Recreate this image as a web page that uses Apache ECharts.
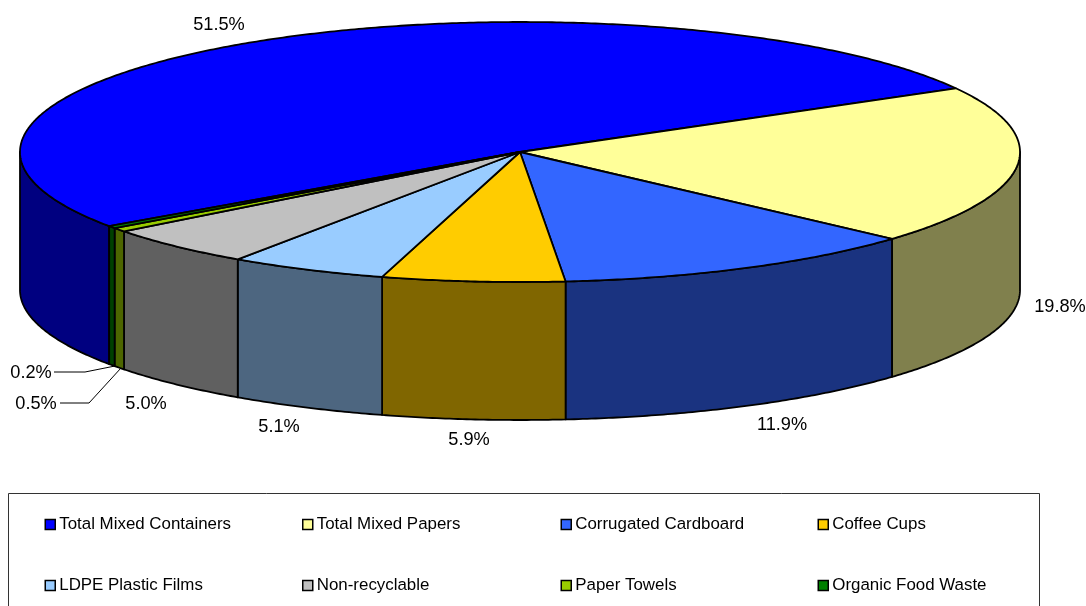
<!DOCTYPE html>
<html>
<head>
<meta charset="utf-8">
<style>html,body{margin:0;padding:0;background:#fff;overflow:hidden}#c{width:1086px;height:606px}</style>
<script src="https://cdn.jsdelivr.net/npm/echarts@6/dist/echarts.min.js"></script>
</head>
<body>
<div id="c"></div>
<script>
const categories = ['Total Mixed Containers','Total Mixed Papers','Corrugated Cardboard','Coffee Cups','LDPE Plastic Films','Non-recyclable','Paper Towels','Organic Food Waste'];
const values = [51.5,19.8,11.9,5.9,5.1,5.0,0.5,0.2];
const topColors = ['#0000FF','#FFFF99','#3366FF','#FFCC00','#99CCFF','#C0C0C0','#99CC00','#008000'];
const sideColors = ['#000080','#80804D','#1A3380','#806600','#4D6680','#606060','#4D6600','#004000'];
const labelAnchors = [[219,25],[1060,307],[782,425],[469,440],[279,427],[146,404],[36,404],[31,373]];
const leaderLines = {6:[[60,403],[89,403],[121,368]],7:[[54,372],[85,372],[115,366]]};
const legendColumns = [[0,4],[1,5],[2,6],[3,7]];
const legendLeft = [44.5,302,560.5,817.5];

const CX=520, CY=152, RX=500, RY=130, DEPTH=138, START=145.25;
const FONT='"Liberation Sans", Arial, sans-serif';
const pt=(deg,dy)=>{const r=deg*Math.PI/180;return [CX+RX*Math.cos(r),CY+RY*Math.sin(r)+(dy||0)];};
function arc(a,b,dy){const n=Math.max(2,Math.ceil(Math.abs(b-a)/0.5));const out=[];for(let i=0;i<=n;i++)out.push(pt(a+(b-a)*i/n,dy));return out;}

// Values are percentages; the rounded figures sum to 99.9, so the last slice closes the ring.
let cum=0;
const spans=values.map((v,i)=>{const a=START+cum*3.6;cum+=v;return [a,i===values.length-1?START+360:START+cum*3.6];});

function visibleWall(a,b){
  const parts=[];
  for(const k of [0,360,-360]){
    const lo=Math.max(a,k), hi=Math.min(b,k+180);
    if(hi>lo) parts.push([lo,hi]);
  }
  return parts;
}

const series=categories.map((name,i)=>({
  type:'custom',name,coordinateSystem:'none',
  data:[[values[i]]],
  itemStyle:{color:topColors[i]},
  silent:true,animation:false,
  renderItem:(params,api)=>{
    const v=api.value(0);
    const [a,b]=spans[i];
    const children=[];
    visibleWall(a,b).forEach(([lo,hi])=>{
      children.push({type:'polygon',z2:1,
        shape:{points:arc(lo,hi,0).concat(arc(hi,lo,DEPTH))},
        style:{fill:sideColors[i],stroke:'#000',lineWidth:1.8,lineJoin:'round'}});
    });
    children.push({type:'polygon',z2:10+i,
      shape:{points:[[CX,CY]].concat(arc(a,b,0))},
      style:{fill:topColors[i],stroke:'#000',lineWidth:1.8,lineJoin:'round'}});
    if(leaderLines[i]) children.push({type:'polyline',z2:30,
      shape:{points:leaderLines[i]},style:{fill:null,stroke:'#000',lineWidth:1}});
    children.push({type:'text',z2:40,x:labelAnchors[i][0],y:labelAnchors[i][1],
      style:{text:v.toFixed(1)+'%',fill:'#000',font:'18.2px '+FONT,align:'center',verticalAlign:'middle'}});
    return {type:'group',children};
  }
}));

const legend=legendColumns.map((col,c)=>({
  orient:'vertical',left:legendLeft[c],top:516,itemWidth:10,itemHeight:10,itemGap:44,
  selectedMode:false,padding:0,
  textStyle:{fontFamily:FONT,fontSize:16.9,color:'#000',padding:[0,0,0,-1]},
  data:col.map(i=>({name:categories[i],icon:'rect',
    itemStyle:{color:topColors[i],borderColor:'#000',borderWidth:1.5}}))
}));

const chart=echarts.init(document.getElementById('c'),null,{renderer:'canvas'});
chart.setOption({
  animation:false,backgroundColor:'#fff',
  legend,series,
  graphic:[{type:'rect',silent:true,z:-1,shape:{x:8.5,y:493.5,width:1031,height:130},
    style:{fill:'#fff',stroke:'#333',lineWidth:1}}]
});
</script>
</body>
</html>
